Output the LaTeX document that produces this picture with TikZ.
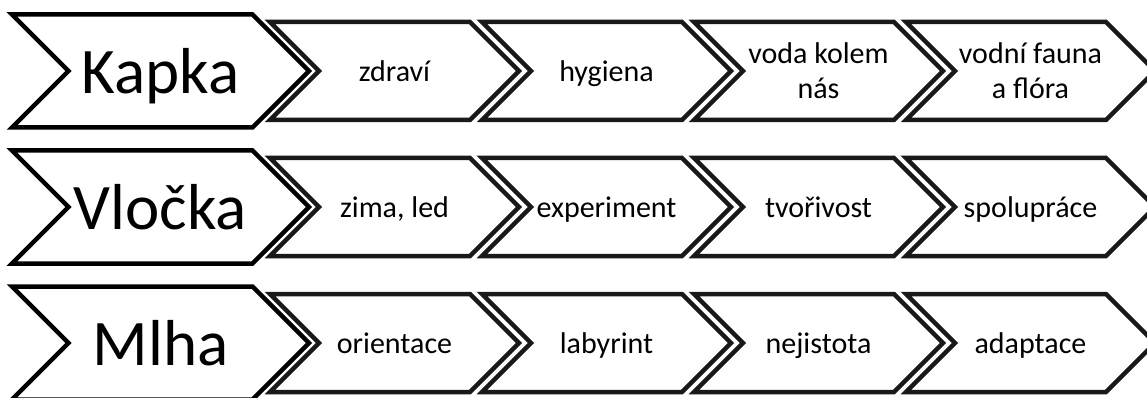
\documentclass[tikz,border=0pt]{standalone}
\usepackage{fontspec}
\setmainfont{Carlito}
\usetikzlibrary{shapes.symbols}
\tikzset{
  chevron/.style={signal,signal from=west,signal to=east,signal pointer angle=90,
    fill=white,inner sep=0pt,text depth=0pt},
  bigchev/.style={chevron,draw=black,line width=4.5pt,
    minimum width=297pt,minimum height=113pt,text height=45pt,
    font=\fontsize{65}{72}\selectfont},
  smallchev/.style={chevron,draw=black!90,line width=4.5pt,
    minimum width=249pt,minimum height=98pt,text height=21pt,align=center,
    font=\fontsize{30}{35}\selectfont},
  twolines/.style={text height=,text depth=}
}
\begin{document}
\begin{tikzpicture}[x=1pt,y=-1pt]
  \useasboundingbox (0,0) rectangle (1147,398);
  \clip (0,0) rectangle (1147,398);
  % first row
  \node (kapka)   at (160.5,71) [bigchev] {Kapka};
  \node (zdravi)  at (394.5,71) [smallchev] {zdraví};
  \node (hygiena) at (606.5,71) [smallchev] {hygiena};
  \node (voda)    at (818.5,71) [smallchev,twolines] {voda kolem\\nás};
  \node (fauna)   at (1030.5,71) [smallchev,twolines] {vodní fauna\\a flóra};
  % second row
  \node (vlocka)  at (160.5,207) [bigchev] {Vločka};
  \node (zima)    at (394.5,207) [smallchev] {zima, led};
  \node (exper)   at (606.5,207) [smallchev] {experiment};
  \node (tvori)   at (818.5,207) [smallchev] {tvořivost};
  \node (spolu)   at (1030.5,207) [smallchev] {spolupráce};
  % third row
  \node (mlha)    at (160.5,343) [bigchev] {Mlha};
  \node (orient)  at (394.5,343) [smallchev] {orientace};
  \node (laby)    at (606.5,343) [smallchev] {labyrint};
  \node (nejist)  at (818.5,343) [smallchev] {nejistota};
  \node (adapt)   at (1030.5,343) [smallchev] {adaptace};
\end{tikzpicture}
\end{document}
